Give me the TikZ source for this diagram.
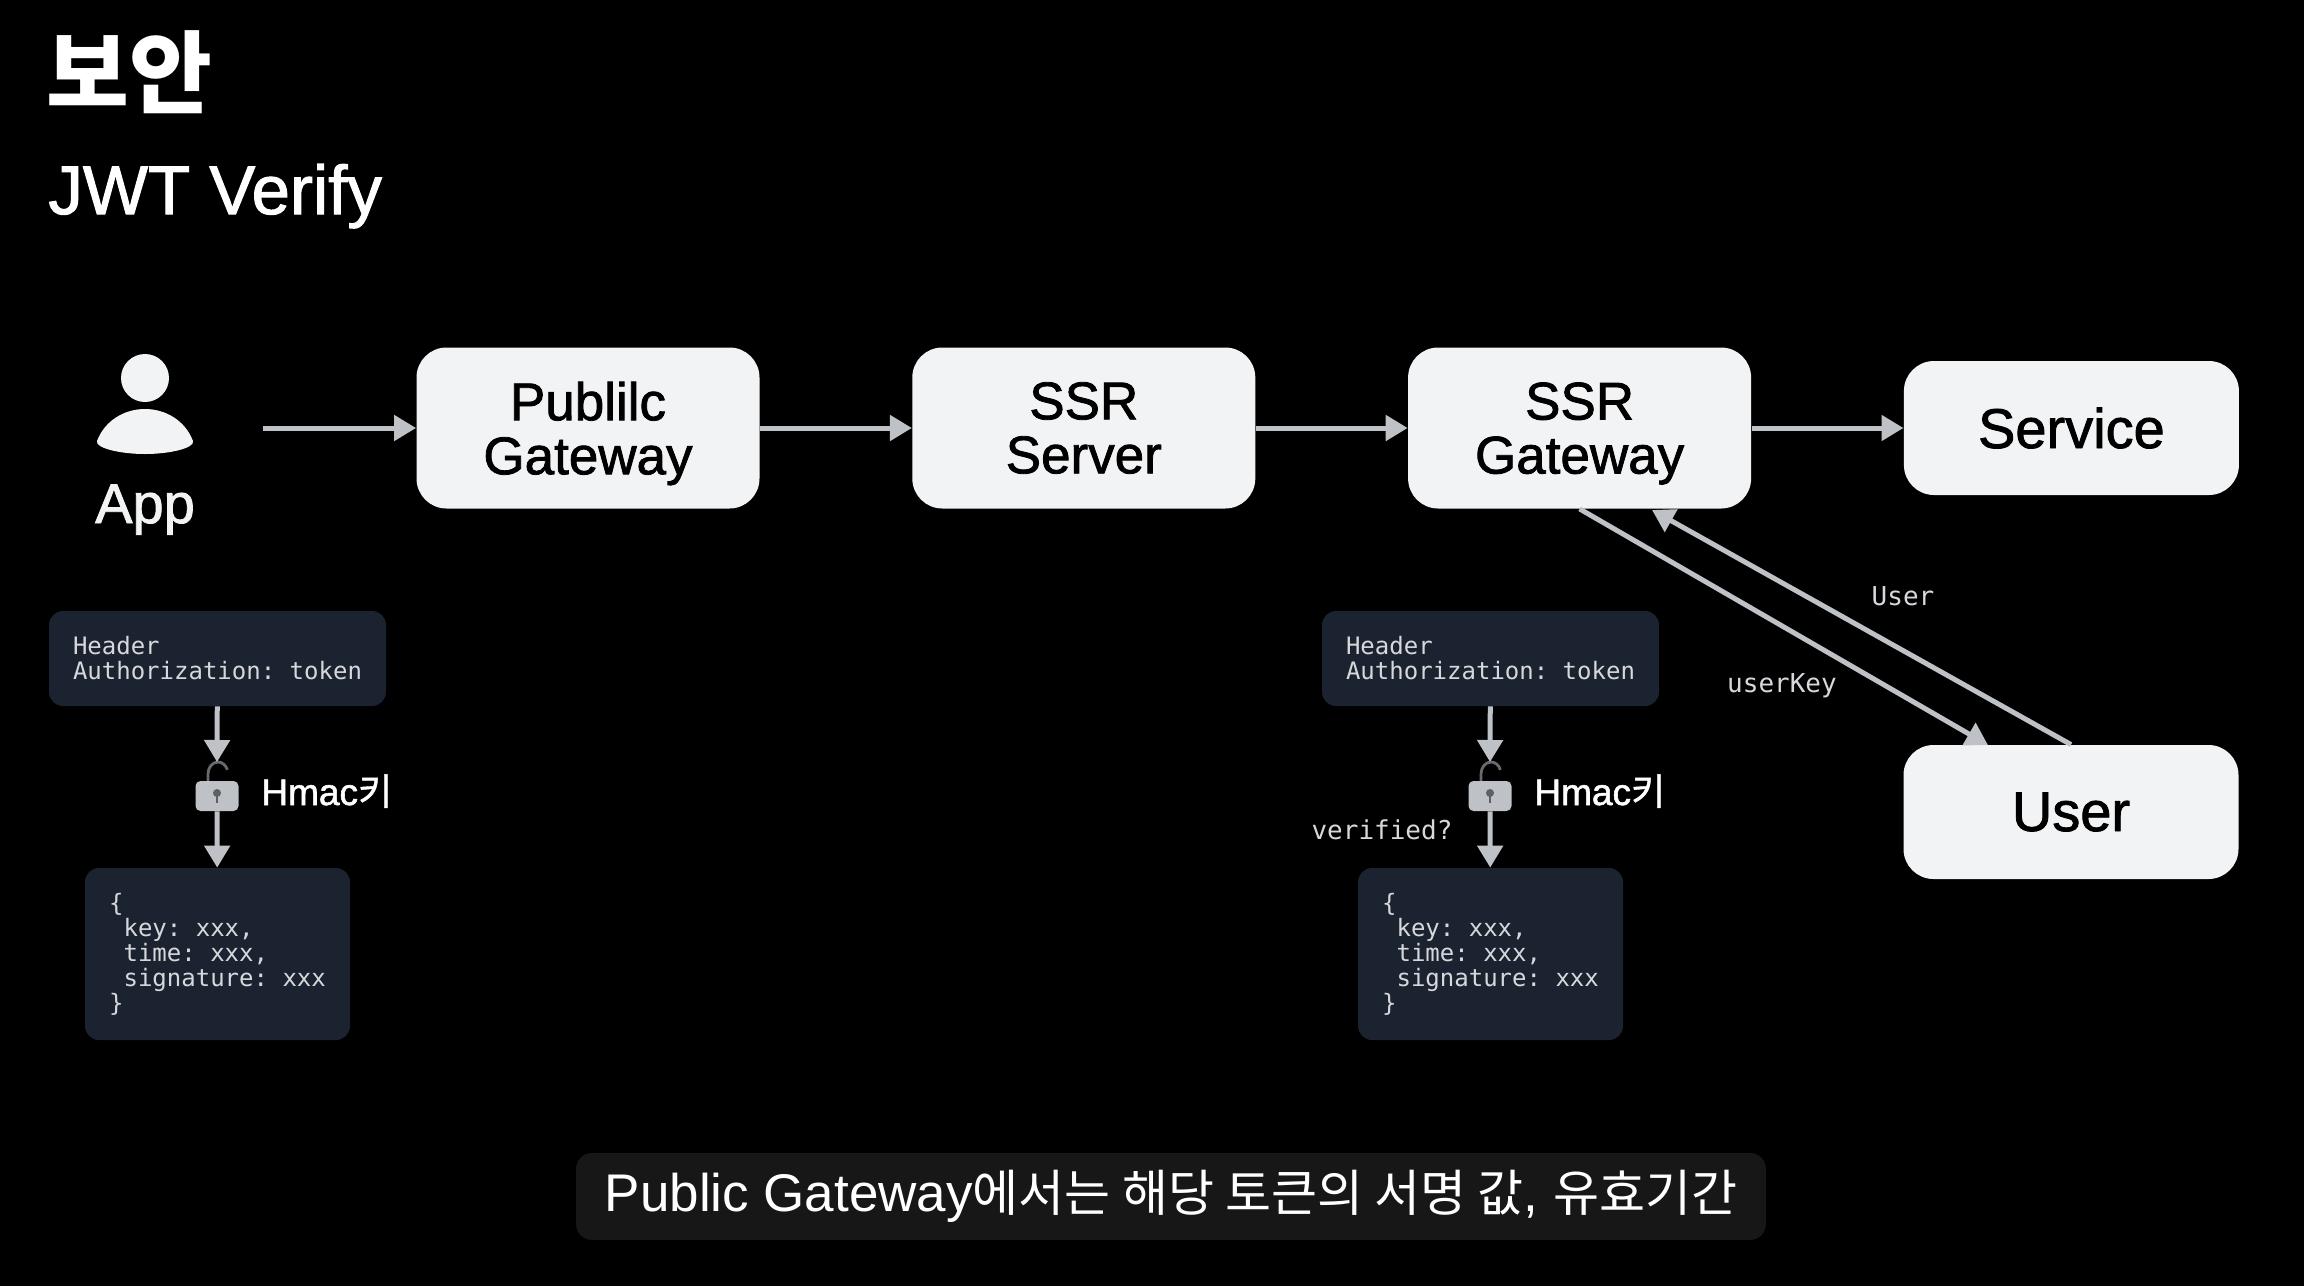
\documentclass[tikz,border=0pt]{standalone}
\usepackage{fontspec}
\setmainfont{Liberation Sans}
\setmonofont{DejaVu Sans Mono}
\newfontfamily\hangul{Noto Sans CJK KR}
\newfontfamily\boxfont[FakeBold=1.5]{Liberation Sans}
\newfontfamily\hangulbox[FakeBold=1]{Noto Sans CJK KR}
\usetikzlibrary{positioning,arrows.meta}
\definecolor{boxfill}{HTML}{F2F3F5}
\definecolor{codefill}{HTML}{1B2330}
\definecolor{codetext}{HTML}{D6D8DC}
\definecolor{linegray}{HTML}{BEC1C6}
\definecolor{capfill}{HTML}{171717}
\tikzset{lockkey/.pic={
    \draw[line width=1.4pt,color=linegray!55!black] (-9,-15) -- (-9,-22) arc[start angle=180,end angle=340,x radius=10,y radius=12];
    \node[draw=none,fill=linegray,rounded corners=2.5pt,minimum width=21.5pt,minimum height=15pt,inner sep=0pt] (body) {};
    \fill[linegray!50!black] (0,-3) circle [radius=2pt];
    \draw[line width=1.2pt,color=linegray!50!black] (0,-3) -- (0,7);
    \coordinate (top) at (0,-34);
}}
\begin{document}
\begin{tikzpicture} [x=0.5pt,y=-0.5pt,
    gwbox/.style={fill=boxfill,text=black,rounded corners=15pt,inner sep=0pt,align=center,
        minimum width=171.5pt,minimum height=80.5pt,font=\boxfont\fontsize{26.5}{27}\selectfont},
    svcbox/.style={gwbox,minimum width=167.5pt,minimum height=67pt,font=\boxfont\fontsize{28}{27}\selectfont},
    codebox/.style={fill=codefill,text=codetext,rounded corners=7pt,inner sep=0pt,align=left,
        font=\ttfamily\fontsize{12}{12.5}\selectfont},
    codelabel/.style={text=codetext,inner sep=0pt,font=\ttfamily\fontsize{13}{13}\selectfont},
    keylabel/.style={text=white,anchor=base west,inner sep=0pt,font=\boxfont\fontsize{18.5}{18.5}\selectfont},
    flow/.style={-{Triangle[length=11pt,width=12.5pt]},line width=2.5pt,color=linegray}]
    \useasboundingbox[fill=black] (0,0) rectangle (2304,1286);

    \node[text=white,anchor=base west,inner sep=0pt,font=\hangul\bfseries\fontsize{45}{45}\selectfont] (title) at (46,106) {보안};
    \node[text=white,anchor=base west,inner sep=0pt,font=\boxfont\fontsize{34.5}{34.5}\selectfont] (subtitle) at (48,214) {JWT Verify};

    % app icon
    \fill[boxfill] (145,378) circle [radius=12pt];
    \fill[boxfill] (97,441) .. controls (105,420) and (125,409) .. (145,409) .. controls (165,409) and (185,420) .. (193,441) .. controls (195,448) and (170,454) .. (145,454) .. controls (120,454) and (95,448) .. (97,441) -- cycle;
    \node[text=boxfill,anchor=base,inner sep=0pt,font=\boxfont\fontsize{28}{28}\selectfont] (app) at (145,523) {App};
    \coordinate (appout) at (263,428);

    \node[gwbox] (pubgw) at (588,428) {Publilc\\\smash{Gateway}};
    \node[gwbox,right=76pt of pubgw] (ssrsrv) {SSR\\Server};
    \node[gwbox,right=76pt of ssrsrv] (ssrgw) {SSR\\\smash{Gateway}};
    \node[svcbox,right=76pt of ssrgw] (service) {Service};
    \node[svcbox] (user) at (2071,812) {User};

    \path (appout) edge [flow] (pubgw);
    \path (pubgw) edge [flow] (ssrsrv);
    \path (ssrsrv) edge [flow] (ssrgw);
    \path (ssrgw) edge [flow] (service);

    % user lookup
    \coordinate (gwin) at (1652,510);
    \coordinate (userin) at (1988,745);
    \path (ssrgw.south) edge [flow] (userin);
    \path (user.north) edge [flow] (gwin);
    \node[codelabel] (userlbl) at (1903,596) {User};
    \node[codelabel] (keylbl) at (1782,686) {userKey};

    % left token
    \node[codebox,minimum width=168.5pt,minimum height=47.5pt] (hdra) at (217.5,658.5) {Header\\Authorization: token};
    \pic (locka) at (217,796) {lockkey};
    \node[codebox,minimum width=132.5pt,minimum height=86pt] (jsona) at (217.5,954) {\{\\\ key: xxx,\\\ time: xxx,\\\ signature: xxx\\\}};
    \node[keylabel] (hmaca) at (261,805) {Hmac{\hangulbox 키}};
    \path (hdra) edge [flow] (lockatop);
    \path (lockabody) edge [flow] (jsona);

    % right token
    \node[codebox,minimum width=168.5pt,minimum height=47.5pt] (hdrb) at (1490.5,658.5) {Header\\Authorization: token};
    \pic (lockb) at (1490,796) {lockkey};
    \node[codebox,minimum width=132.5pt,minimum height=86pt] (jsonb) at (1490.5,954) {\{\\\ key: xxx,\\\ time: xxx,\\\ signature: xxx\\\}};
    \node[keylabel] (hmacb) at (1534,805) {Hmac{\hangulbox 키}};
    \node[codelabel] (verified) at (1382,830) {verified?};
    \path (hdrb) edge [flow] (lockbtop);
    \path (lockbbody) edge [flow] (jsonb);

    \node[fill=capfill,text=white,rounded corners=8pt,inner sep=0pt,minimum width=595pt,minimum height=43.5pt,
        font=\fontsize{26.5}{26.5}\selectfont] (caption) at (1171,1196.5) {\raisebox{-1.5pt}{Public Gateway{\hangul\fontsize{25}{25}\selectfont 에서는 해당 토큰의 서명 값}, {\hangul\fontsize{25}{25}\selectfont 유효기간}}};
\end{tikzpicture}
\end{document}
